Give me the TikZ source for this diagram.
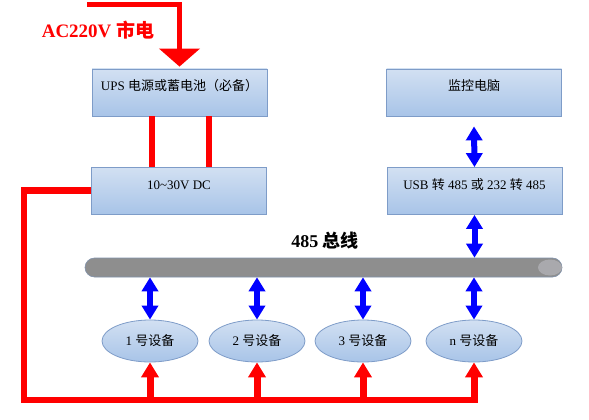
\documentclass[tikz,border=0pt]{standalone}
\usepackage{fontspec}
\setmainfont{Liberation Serif}
\newfontfamily\cjk{Noto Sans CJK SC}
\usetikzlibrary{arrows.meta,shapes.geometric}
\definecolor{boxtop}{HTML}{D2E0F2}
\definecolor{boxbot}{HTML}{A8C4E8}
\definecolor{boxline}{HTML}{7E9CC8}
\definecolor{busgray}{HTML}{8E8E8E}
\definecolor{capgray}{HTML}{A9A9AD}
\definecolor{pwr}{HTML}{FF0000}
\definecolor{sig}{HTML}{0000FF}
\begin{document}
\begin{tikzpicture}[x=1pt,y=-1pt,
 boxnode/.style={draw=boxline, line width=0.8pt, top color=boxtop, bottom color=boxbot, minimum width=175pt, minimum height=47pt, inner sep=0pt, font=\fontsize{13}{15}\selectfont, text height=10pt, text depth=13pt},
 devnode/.style={ellipse, draw=boxline, line width=0.8pt, top color=boxtop, bottom color=boxbot, minimum width=96pt, minimum height=42pt, inner sep=0pt, font=\fontsize{13}{15}\selectfont},
 sigarrow/.style={draw=sig, line width=6pt, {Triangle[width=16pt,length=14pt]}-{Triangle[width=16pt,length=14pt]}},
 pwrline/.style={draw=pwr, line width=6.5pt},
 pwrarrow/.style={draw=pwr, line width=7pt, -{Triangle[width=17pt,length=15pt]}},
]
\useasboundingbox (0,0) rectangle (589,420);

% boxes
\node[boxnode] (ups) at (179.5,92.5) {UPS {\cjk 电源或蓄电池（必备）}};
\node[boxnode] (dc) at (179,190.5) {10\textasciitilde30V DC};
\node[boxnode] (pc) at (474,92.5) {{\cjk 监控电脑}};
\node[boxnode] (usb) at (474.5,191) {USB {\cjk 转} 485 {\cjk 或} 232 {\cjk 转} 485};

% bus
\node[draw=boxline!60!gray, line width=0.6pt, fill=busgray, rounded corners=9.5pt, minimum width=477pt, minimum height=19pt, inner sep=0pt] (bus) at (323.5,267.5) {};
\node[ellipse, fill=capgray, minimum width=24pt, minimum height=16pt, inner sep=0pt] (cap) at (550,267.5) {};

% texts
\node[text=pwr, font=\fontsize{19}{22}\selectfont\bfseries] (ac) at (98,30) {AC220V {\cjk 市电}};
\node[font=\fontsize{18}{21}\selectfont\bfseries] (bustxt) at (325,241) {485 {\cjk 总线}};

% devices
\node[devnode] (d1) at (150,341) {1 {\cjk 号设备}};
\node[devnode] (d2) at (257,341) {2 {\cjk 号设备}};
\node[devnode] (d3) at (363,341) {3 {\cjk 号设备}};
\node[devnode] (dn) at (474,341) {n {\cjk 号设备}};

% mains arrow
\coordinate (acs) at (87,5);
\draw[draw=pwr, line width=5pt, -{Triangle[width=40pt,length=18pt]}, shorten >=2pt] (acs) -| (ups.north);

% UPS to DC
\draw[pwrline] ([xshift=-27.5pt]ups.south) -- ([xshift=-27.5pt]ups.south |- dc.north);
\draw[pwrline] ([xshift=29.5pt]ups.south) -- ([xshift=29.5pt]ups.south |- dc.north);

% power distribution
\coordinate (bl) at (24,400);
\coordinate (br) at (477.5,400);
\draw[pwrline, line join=miter] (dc.west) -| (bl) -- (br);
\draw[pwrarrow] (d1.south |- br) -- (d1.south);
\draw[pwrarrow] (d2.south |- br) -- (d2.south);
\draw[pwrarrow] (d3.south |- br) -- (d3.south);
\draw[pwrarrow] (dn.south |- br) -- (dn.south);

% signal arrows
\draw[sigarrow] ([yshift=-10pt]pc.south) -- (usb.north);
\draw[sigarrow] (usb.south) -- (usb.south |- bus.north);
\draw[sigarrow] (d1.north |- bus.south) -- (d1.north);
\draw[sigarrow] (d2.north |- bus.south) -- (d2.north);
\draw[sigarrow] (d3.north |- bus.south) -- (d3.north);
\draw[sigarrow] (dn.north |- bus.south) -- (dn.north);
\end{tikzpicture}
\end{document}
